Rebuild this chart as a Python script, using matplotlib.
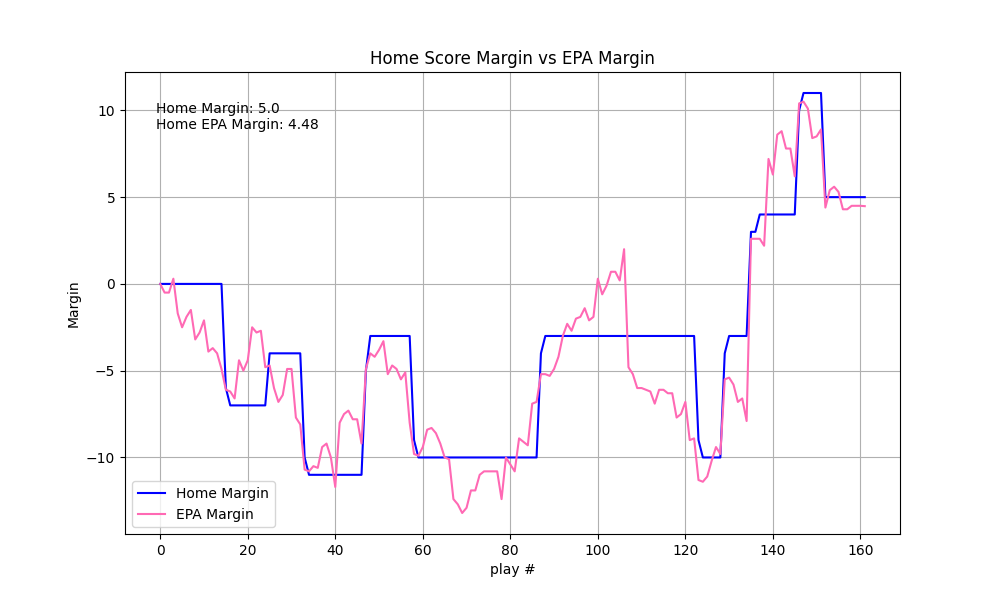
import numpy as np
import matplotlib
matplotlib.use('Agg')
import matplotlib.pyplot as plt

# home score margin per play (step changes)
home_steps = [(15, 0), (1, -6), (9, -7), (8, -4), (1, -10), (13, -11), (1, -5), (10, -3),
              (1, -9), (28, -10), (1, -4), (35, -3), (1, -9), (5, -10), (1, -4), (5, -3),
              (2, 3), (9, 4), (1, 10), (5, 11), (10, 5)]
home_margin = [v for n, v in home_steps for _ in range(n)]

epa_margin = [0, -0.5, -0.5, 0.3, -1.7, -2.5, -1.9, -1.5, -3.2, -2.8,
              -2.1, -3.9, -3.7, -4.0, -4.9, -6.1, -6.2, -6.6, -4.4, -5.0,
              -4.4, -2.5, -2.8, -2.7, -4.8, -4.7, -6.0, -6.8, -6.4, -4.9,
              -4.9, -7.7, -8.1, -10.7, -10.8, -10.5, -10.6, -9.4, -9.2, -10.0,
              -11.7, -8.0, -7.5, -7.3, -7.8, -7.8, -9.2, -4.9, -4.0, -4.2,
              -3.8, -3.3, -5.2, -4.7, -4.9, -5.5, -5.1, -8.0, -9.8, -9.9,
              -9.4, -8.4, -8.3, -8.6, -9.2, -10.0, -10.1, -12.4, -12.7, -13.2,
              -12.9, -11.9, -11.9, -11.0, -10.8, -10.8, -10.8, -10.8, -12.4, -10.0,
              -10.4, -10.8, -8.9, -9.1, -9.3, -6.9, -6.8, -5.2, -5.2, -5.3,
              -4.9, -4.2, -3.0, -2.3, -2.7, -2.0, -1.9, -1.4, -2.1, -1.9,
              0.3, -0.6, -0.1, 0.7, 0.7, 0.2, 2.0, -4.8, -5.2, -6.0,
              -6.0, -6.1, -6.2, -6.9, -6.1, -6.1, -6.3, -6.3, -7.7, -7.5,
              -6.8, -9.0, -8.9, -11.3, -11.4, -11.1, -10.2, -9.4, -9.8, -5.5,
              -5.4, -5.8, -6.8, -6.6, -7.9, 2.6, 2.6, 2.6, 2.2, 7.2,
              6.3, 8.6, 8.8, 7.8, 7.8, 6.2, 10.4, 10.5, 10.1, 8.4,
              8.5, 8.9, 4.4, 5.4, 5.6, 5.3, 4.3, 4.3, 4.5, 4.5,
              4.5, 4.48]

plays = np.arange(len(home_margin))

fig, ax = plt.subplots(figsize=(10, 6), dpi=100)
ax.plot(plays, home_margin, color='blue', label='Home Margin')
ax.plot(plays[:len(epa_margin)], epa_margin, color='#ff69b4', label='EPA Margin')
ax.text(0.04, 0.935, f'Home Margin: {home_margin[-1]:.1f}\nHome EPA Margin: {epa_margin[-1]}',
        transform=ax.transAxes, va='top', fontsize=10)
ax.set_title('Home Score Margin vs EPA Margin')
ax.set_xlabel('play #')
ax.set_ylabel('Margin')
ax.grid(True)
ax.legend(loc='lower left')
plt.savefig('out.png')
